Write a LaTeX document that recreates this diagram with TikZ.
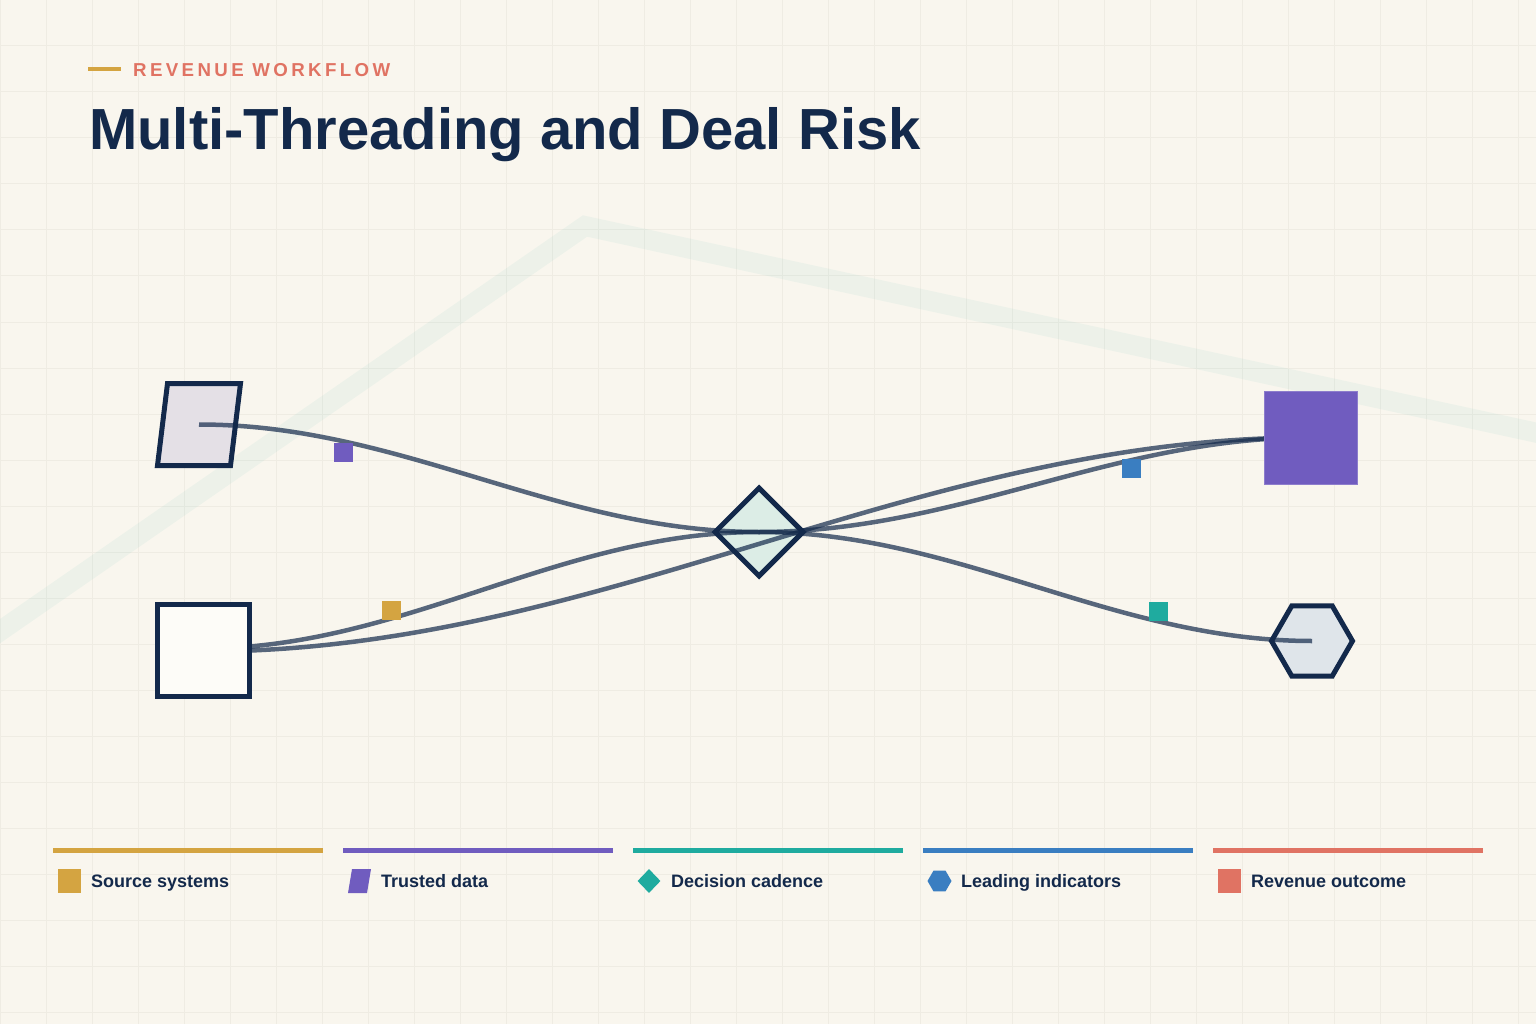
\documentclass[tikz,border=0pt]{standalone}
\usepackage{fontspec}
\setmainfont{Liberation Sans}
\newfontfamily\kickerfont[LetterSpace=18]{Liberation Sans}
\usepackage{tikz}
\usetikzlibrary{shapes.geometric, positioning}

\definecolor{paper}{HTML}{F9F6EE}
\definecolor{gridc}{HTML}{EFECE3}
\definecolor{navy}{HTML}{13294B}
\definecolor{gold}{HTML}{D4A441}
\definecolor{purp}{HTML}{705CBF}
\definecolor{teal}{HTML}{1FAB9F}
\definecolor{blue}{HTML}{3A7EC1}
\definecolor{coral}{HTML}{E07363}
\definecolor{lavfill}{HTML}{E4E0E6}
\definecolor{srcfill}{HTML}{FDFCF8}
\definecolor{mintfill}{HTML}{DCEDE6}
\definecolor{mistfill}{HTML}{DFE5EA}

\pgfdeclarelayer{bg}
\pgfdeclarelayer{fg}
\pgfsetlayers{bg,main,fg}

\tikzstyle{gridline} = [gridc, line width=1pt]
\tikzstyle{outline} = [draw=navy, line width=5pt]
\tikzstyle{pnode} = [inner sep=0pt, minimum width=83pt, minimum height=82pt]
\tikzstyle{snode} = [outline, inner sep=0pt, rectangle, minimum size=92pt, fill=srcfill]
\tikzstyle{dnode} = [outline, inner sep=0pt, diamond, minimum width=90pt, minimum height=90pt, fill=mintfill]
\tikzstyle{hnode} = [outline, inner sep=0pt, regular polygon, regular polygon sides=6, minimum size=81pt, fill=mistfill]
\tikzstyle{onode} = [rectangle, inner sep=0pt, minimum size=93pt, fill=purp, draw=purp!80!white, line width=1pt]
\tikzstyle{flow} = [draw=navy, draw opacity=0.7, line width=4.5pt]
\tikzstyle{chip} = [rectangle, inner sep=0pt, minimum size=19pt]
\tikzstyle{bar} = [line width=5pt]
\tikzstyle{keybox} = [rectangle, inner sep=0pt, minimum width=23pt, minimum height=24pt]
\tikzstyle{keydiam} = [diamond, inner sep=0pt, minimum width=23pt, minimum height=24pt]
\tikzstyle{keyhex} = [regular polygon, regular polygon sides=6, inner sep=0pt, minimum size=24pt]
\tikzstyle{keytext} = [anchor=base west, inner sep=0pt, text=navy, font=\bfseries\fontsize{18}{20}\selectfont]

\begin{document}
\begin{tikzpicture}[x=1pt, y=-1pt]
	\useasboundingbox (0,0) rectangle (1536,1024);

	\begin{pgfonlayer}{bg}
		\fill[paper] (0,0) rectangle (1536,1024);
		\foreach \gx in {0,46,...,1536} \draw[gridline] (\gx,0) -- (\gx,1024);
		\foreach \gy in {0,46,...,1024} \draw[gridline] (0,\gy) -- (1536,\gy);
		\draw[teal, opacity=0.055, line width=20pt] (-20,645) -- (585,226) -- (1556,437);
	\end{pgfonlayer}

	% header
	\draw[gold, line width=4pt] (88,69) -- (121,69);
	\node [anchor=base west, inner sep=0pt, text=coral, font=\kickerfont\bfseries\fontsize{18.7}{20}\selectfont] (kicker) at (133,77) {REVENUE WORKFLOW};
	\node [anchor=base west, inner sep=0pt, text=navy, font=\bfseries\fontsize{58}{60}\selectfont] (title) at (89,150) {Multi-Threading and Deal Risk};

	% flow
	\node [pnode] (data) at (199,424.5) {};
	\draw [outline, fill=lavfill, shift={(data.center)}] (-41.5,41) -- (31.5,41) -- (41.5,-41) -- (-31.5,-41) -- cycle;
	\node [dnode] (cadence) at (759,532) {};
	\node [hnode] (signal) at (1312,641) {};
	\begin{pgfonlayer}{fg}
		\node [snode] (source) at (203.5,650.5) {};
		\node [onode] (outcome) at (1310.5,437.5) {};
	\end{pgfonlayer}

	\path [flow] (data.center) .. controls +(202,0) and +(-202,0) .. (cadence.center);
	\path [flow] (cadence.center) .. controls +(199,0) and +(-199,0) .. (signal.center);
	\path [flow] ([yshift=2pt]source.center) .. controls +(200,0) and +(-200,0) .. (cadence.center);
	\path [flow] ([yshift=-1pt]source.center) .. controls +(398,0) and +(-398,0) .. (outcome.center);
	\path [flow] (cadence.center) .. controls +(199,0) and +(-199,0) .. (outcome.center);

	\node [chip, fill=purp] (c1) at (343.5,452.5) {};
	\node [chip, fill=gold] (c2) at (391.5,610.5) {};
	\node [chip, fill=blue] (c3) at (1131.5,468) {};
	\node [chip, fill=teal] (c4) at (1158.5,611) {};

	% legend
	\draw [bar, gold] (53,850) -- (323,850);
	\draw [bar, purp] (343,850) -- (613,850);
	\draw [bar, teal] (633,850) -- (903,850);
	\draw [bar, blue] (923,850) -- (1193,850);
	\draw [bar, coral] (1213,850) -- (1483,850);

	\node [keybox, fill=gold] (k1) at (69,881) {};
	\node [keybox] (k2) at (359.5,881) {};
	\fill [purp, shift={(k2.center)}] (-11.5,12) -- (7.5,12) -- (11.5,-12) -- (-7.5,-12) -- cycle;
	\node [keydiam, fill=teal] (k3) at (649,881) {};
	\node [keyhex, fill=blue] (k4) at (939.5,881) {};
	\node [keybox, fill=coral] (k5) at (1229,881) {};

	\node [keytext] (l1) at (91,887) {Source systems};
	\node [keytext] (l2) at (381,887) {Trusted data};
	\node [keytext] (l3) at (671,887) {Decision cadence};
	\node [keytext] (l4) at (961,887) {Leading indicators};
	\node [keytext] (l5) at (1251,887) {Revenue outcome};
\end{tikzpicture}
\end{document}
